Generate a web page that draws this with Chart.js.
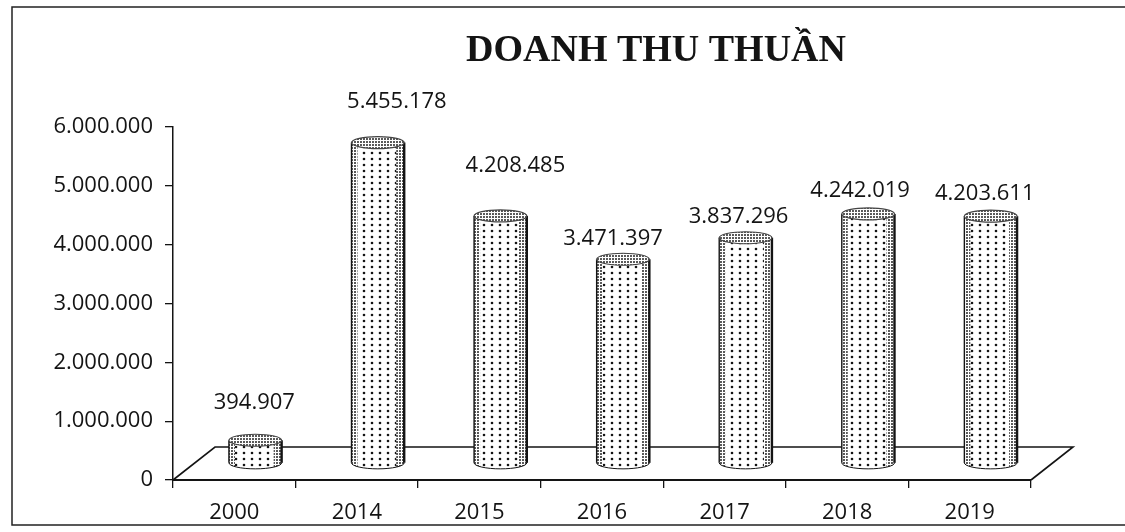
<!DOCTYPE html>
<html>
<head>
<meta charset="utf-8">
<script src="https://cdn.jsdelivr.net/npm/chart.js@4.4.1/dist/chart.umd.min.js"></script>
<style>
  html, body { margin: 0; padding: 0; background: #fff; }
  #wrap { width: 1125px; height: 532px; position: relative; }
</style>
</head>
<body>
<div id="wrap"><canvas id="revenueChart"></canvas></div>
<script>
// data
const years = ['2000', '2014', '2015', '2016', '2017', '2018', '2019'];
const revenue = [394907, 5455178, 4208485, 3471397, 3837296, 4242019, 4203611];
const yMin = 0;
const yMax = 6000000;
const yStep = 1000000;
const chartTitle = 'DOANH THU THUẦN';

// look
const depth = { dx: 42, dy: -33 };   // 3D floor offset
const labelNudge = [[-1, -16], [19, -19], [15, -28], [-10, 1], [-7, 1], [-8, -1], [-6, 0]];
const ink = '#141414';
const textFont = '"Open Sans", Lato, sans-serif';

function fmt(n) {
    return String(n).replace(/\B(?=(\d{3})+(?!\d))/g, '.');
}

function dotPattern(ctx, w, h, dots) {
    const c = document.createElement('canvas');
    c.width = w; c.height = h;
    const p = c.getContext('2d');
    p.fillStyle = '#fff';
    p.fillRect(0, 0, w, h);
    p.fillStyle = ink;
    dots.forEach(d => {
        p.beginPath();
        p.arc(d[0], d[1], d[2], 0, Math.PI * 2);
        p.fill();
    });
    return ctx.createPattern(c, 'repeat');
}

const cylinderPlugin = {
    id: 'cylinders',
    beforeDraw(chart) {
        const ctx = chart.ctx;
        ctx.save();
        ctx.fillStyle = '#fff';
        ctx.fillRect(0, 0, chart.width, chart.height);
        // page frame
        ctx.strokeStyle = '#222';
        ctx.lineWidth = 1.5;
        ctx.beginPath();
        ctx.moveTo(chart.width, 7);
        ctx.lineTo(12, 7);
        ctx.lineTo(12, 525);
        ctx.lineTo(chart.width, 525);
        ctx.stroke();
        // title
        ctx.fillStyle = ink;
        ctx.font = 'bold 38px "Liberation Serif", "Times New Roman", serif';
        ctx.textAlign = 'center';
        ctx.textBaseline = 'alphabetic';
        ctx.fillText(chartTitle, 656, 61);
        ctx.restore();
    },
    beforeDatasetsDraw(chart) {
        const { ctx, chartArea: a } = chart;
        ctx.save();
        ctx.strokeStyle = ink;
        ctx.lineWidth = 1.6;
        ctx.beginPath();
        ctx.moveTo(a.left, a.bottom);
        ctx.lineTo(a.left + depth.dx, a.bottom + depth.dy);
        ctx.lineTo(a.right + depth.dx, a.bottom + depth.dy);
        ctx.lineTo(a.right, a.bottom);
        ctx.stroke();
        ctx.restore();
    },
    afterDatasetsDraw(chart) {
        const ctx = chart.ctx;
        const sparse = dotPattern(ctx, 8, 6, [[4, 3, 1.3]]);
        const dense = dotPattern(ctx, 3, 3, [[1, 1, 0.95]]);
        const meta = chart.getDatasetMeta(0);
        ctx.save();
        meta.data.forEach((bar, i) => {
            const p = bar.getProps(['x', 'y', 'base', 'width'], true);
            const cx = p.x + depth.dx / 2;
            const top = p.y + depth.dy / 2;
            const bot = p.base + depth.dy / 2;
            const rx = p.width / 2;
            const ry = 6;

            // body
            ctx.beginPath();
            ctx.moveTo(cx - rx, top);
            ctx.lineTo(cx - rx, bot);
            ctx.ellipse(cx, bot, rx, ry, 0, Math.PI, 0, true);
            ctx.lineTo(cx + rx, top);
            ctx.closePath();
            ctx.fillStyle = sparse;
            ctx.fill();
            ctx.save();
            ctx.clip();
            ctx.fillStyle = dense;
            ctx.fillRect(cx - rx, top - ry, 6, bot - top + 2 * ry);
            ctx.fillRect(cx + rx - 8, top - ry, 8, bot - top + 2 * ry);
            ctx.restore();

            ctx.strokeStyle = ink;
            ctx.lineWidth = 1.4;
            ctx.beginPath();
            ctx.moveTo(cx - rx, top);
            ctx.lineTo(cx - rx, bot);
            ctx.stroke();
            ctx.lineWidth = 2.4;
            ctx.beginPath();
            ctx.moveTo(cx + rx, top);
            ctx.lineTo(cx + rx, bot);
            ctx.stroke();
            ctx.lineWidth = 1;
            ctx.beginPath();
            ctx.ellipse(cx, bot, rx, ry, 0, Math.PI, 0, true);
            ctx.stroke();

            // lid
            ctx.beginPath();
            ctx.ellipse(cx, top, rx, ry, 0, 0, Math.PI * 2);
            ctx.fillStyle = dense;
            ctx.fill();
            ctx.strokeStyle = '#444';
            ctx.lineWidth = 1.2;
            ctx.stroke();

            // value label
            const n = labelNudge[i] || [0, 0];
            ctx.fillStyle = ink;
            ctx.font = '22px ' + textFont;
            ctx.textAlign = 'center';
            ctx.textBaseline = 'middle';
            ctx.fillText(fmt(revenue[i]), cx + n[0], top - ry - 16 + n[1]);
        });
        ctx.restore();
    }
};

const ctx = document.getElementById('revenueChart').getContext('2d');

new Chart(ctx, {
    type: 'bar',
    data: {
        labels: years,
        datasets: [{
            label: chartTitle,
            data: revenue,
            backgroundColor: 'rgba(0,0,0,0)',
            borderWidth: 0,
            categoryPercentage: 1,
            barPercentage: 0.43
        }]
    },
    options: {
        responsive: true,
        maintainAspectRatio: false,
        animation: false,
        layout: { padding: { top: 127, right: 94, left: 0, bottom: 0 } },
        plugins: {
            legend: { display: false },
            tooltip: { enabled: false },
            title: { display: false }
        },
        scales: {
            x: {
                afterFit(scale) { scale.height = 52; },
                grid: {
                    offset: true,
                    drawOnChartArea: false,
                    drawTicks: true,
                    tickLength: 8,
                    color: ink,
                    lineWidth: 1.3
                },
                border: { display: true, color: ink, width: 2 },
                ticks: {
                    color: ink,
                    padding: 12,
                    font: { family: textFont, size: 22 }
                }
            },
            y: {
                min: yMin,
                max: yMax,
                afterFit(scale) { scale.width = 173; },
                grid: {
                    drawOnChartArea: false,
                    drawTicks: true,
                    tickLength: 8,
                    color: ink,
                    lineWidth: 1.3
                },
                border: { display: true, color: ink, width: 1.5 },
                ticks: {
                    stepSize: yStep,
                    color: ink,
                    padding: 12,
                    font: { family: textFont, size: 22 },
                    callback: v => fmt(v)
                }
            }
        }
    },
    plugins: [cylinderPlugin]
});
</script>
</body>
</html>
